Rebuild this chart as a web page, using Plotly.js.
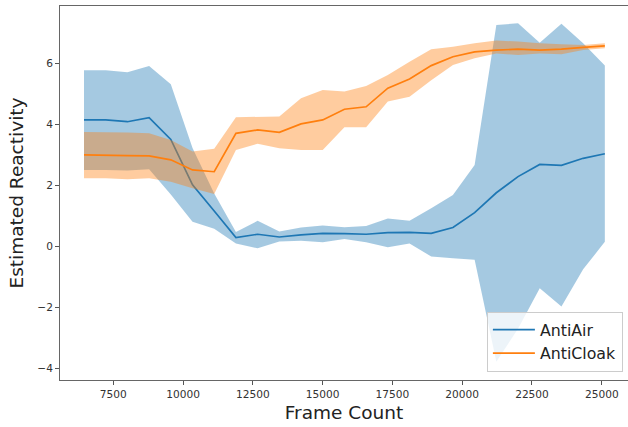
<!DOCTYPE html>
<html>
<head>
<meta charset="utf-8">
<script src="https://cdn.plot.ly/plotly-3.0.1.min.js"></script>
<style>html,body{margin:0;padding:0;background:#fff}#chart{width:628px;height:427px}</style>
</head>
<body>
<div id="chart"></div>
<script>
const frames = [6450, 7228, 8005, 8783, 9560, 10338, 11115, 11893, 12670, 13448, 14225, 15003, 15780, 16558, 17335, 18113, 18890, 19668, 20445, 21223, 22000, 22778, 23555, 24333, 25110];

const antiAirMean  = [4.15, 4.15, 4.09, 4.22, 3.51, 2.02, 1.16, 0.29, 0.40, 0.31, 0.38, 0.43, 0.42, 0.40, 0.45, 0.46, 0.43, 0.62, 1.11, 1.76, 2.29, 2.69, 2.66, 2.89, 3.04];
const antiAirUpper = [5.78, 5.78, 5.71, 5.92, 5.32, 3.23, 1.74, 0.47, 0.84, 0.49, 0.62, 0.69, 0.63, 0.67, 0.92, 0.84, 1.25, 1.69, 2.67, 7.26, 7.32, 6.68, 7.30, 6.66, 5.93];
const antiAirLower = [2.51, 2.51, 2.49, 2.53, 1.70, 0.81, 0.58, 0.10, -0.06, 0.16, 0.19, 0.14, 0.24, 0.14, -0.03, 0.10, -0.33, -0.39, -0.44, -3.78, -2.70, -1.37, -1.97, -0.75, 0.15];

const antiCloakMean  = [3.00, 3.00, 2.98, 2.97, 2.84, 2.51, 2.45, 3.71, 3.82, 3.74, 4.02, 4.15, 4.50, 4.58, 5.19, 5.49, 5.93, 6.22, 6.38, 6.44, 6.47, 6.44, 6.47, 6.53, 6.58];
const antiCloakUpper = [3.75, 3.75, 3.74, 3.71, 3.49, 3.11, 3.20, 4.24, 4.26, 4.26, 4.86, 5.13, 5.08, 5.26, 5.62, 6.06, 6.47, 6.55, 6.66, 6.75, 6.72, 6.66, 6.63, 6.61, 6.66];
const antiCloakLower = [2.24, 2.24, 2.20, 2.24, 2.12, 1.91, 1.72, 3.16, 3.37, 3.22, 3.16, 3.16, 3.91, 3.91, 4.75, 4.91, 5.45, 5.95, 6.17, 6.33, 6.28, 6.33, 6.30, 6.44, 6.50];

const seriesNames = ['AntiAir', 'AntiCloak'];
const xTickVals = [7500, 10000, 12500, 15000, 17500, 20000, 22500, 25000];
const yTickVals = [-4, -2, 0, 2, 4, 6];

function band(upper, lower, color) {
  return {
    x: frames.concat(frames.slice().reverse()),
    y: upper.concat(lower.slice().reverse()),
    type: 'scatter', mode: 'lines', fill: 'toself',
    fillcolor: color, line: {width: 0, color: color},
    hoverinfo: 'skip', showlegend: false
  };
}
function meanLine(y, name, color) {
  return {x: frames, y: y, type: 'scatter', mode: 'lines', name: name,
          line: {color: color, width: 1.7}};
}

const data = [
  meanLine(antiAirMean, seriesNames[0], '#1f77b4'),
  band(antiAirUpper, antiAirLower, 'rgba(31,119,180,0.4)'),
  meanLine(antiCloakMean, seriesNames[1], '#ff7f0e'),
  band(antiCloakUpper, antiCloakLower, 'rgba(255,127,14,0.4)')
];

const tickFont = {family: 'DejaVu Sans', size: 10.6, color: '#333'};
const titleFont = {family: 'DejaVu Sans', size: 18.5, color: '#222'};
const layout = {
  width: 628, height: 427,
  margin: {l: 60, r: 0, t: 6, b: 47, pad: 0},
  paper_bgcolor: '#fff', plot_bgcolor: '#fff',
  showlegend: true,
  xaxis: {
    range: [5590, 25940], tickvals: xTickVals, ticktext: xTickVals.map(String),
    ticks: 'outside', ticklen: 4, tickcolor: '#555', tickwidth: 1,
    showline: true, linecolor: '#666', linewidth: 1, mirror: true,
    showgrid: false, zeroline: false, tickfont: tickFont,
    title: {text: 'Frame Count', font: titleFont, standoff: 7}
  },
  yaxis: {
    range: [-4.38, 7.885], tickvals: yTickVals, ticktext: yTickVals.map(v => v < 0 ? '\u2212' + Math.abs(v) : String(v)),
    ticks: 'outside', ticklen: 4, tickcolor: '#555', tickwidth: 1,
    showline: true, linecolor: '#666', linewidth: 1, mirror: false,
    showgrid: false, zeroline: false, tickfont: tickFont,
    title: {text: 'Estimated Reactivity', font: titleFont, standoff: 8}
  },
  legend: {
    x: 0.991, y: 0.022, xanchor: 'right', yanchor: 'bottom',
    bgcolor: 'rgba(255,255,255,0.8)', bordercolor: '#cccccc', borderwidth: 1,
    itemwidth: 42,
    font: {family: 'DejaVu Sans', size: 15.8, color: '#222'}
  }
};

Plotly.newPlot('chart', data, layout, {displayModeBar: false, staticPlot: true});
</script>
</body>
</html>
